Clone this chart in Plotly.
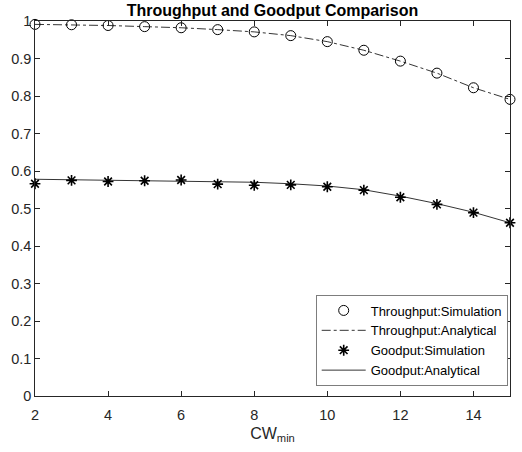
import plotly.graph_objects as go

cw = [2, 3, 4, 5, 6, 7, 8, 9, 10, 11, 12, 13, 14, 15]
thr_sim = [0.991, 0.990, 0.988, 0.985, 0.982, 0.977, 0.971, 0.961, 0.945, 0.922, 0.893, 0.861, 0.822, 0.791]
thr_ana = [0.991, 0.990, 0.988, 0.985, 0.982, 0.977, 0.971, 0.961, 0.945, 0.922, 0.893, 0.861, 0.822, 0.791]
good_sim = [0.566, 0.575, 0.572, 0.574, 0.576, 0.565, 0.562, 0.563, 0.558, 0.549, 0.530, 0.511, 0.489, 0.462]
good_ana = [0.578, 0.577, 0.576, 0.575, 0.574, 0.572, 0.570, 0.566, 0.560, 0.550, 0.533, 0.513, 0.490, 0.462]

FONT = "Liberation Sans, Arial, sans-serif"

fig = go.Figure()
fig.add_trace(go.Scatter(x=cw, y=thr_sim, mode="markers", name="Throughput:Simulation",
                         marker=dict(symbol="circle-open", size=10, color="black", line=dict(width=1)),
                         cliponaxis=False))
fig.add_trace(go.Scatter(x=cw, y=thr_ana, mode="lines", name="Throughput:Analytical",
                         line=dict(color="black", width=0.8, dash="dashdot"), cliponaxis=False))
fig.add_trace(go.Scatter(x=cw, y=good_sim, mode="markers", name="Goodput:Simulation",
                         marker=dict(symbol="asterisk-open", size=9, color="black", line=dict(width=1.6, color="black")),
                         cliponaxis=False))
fig.add_trace(go.Scatter(x=cw, y=good_ana, mode="lines", name="Goodput:Analytical",
                         line=dict(color="black", width=0.8), cliponaxis=False))

axis_common = dict(showline=True, linecolor="#262626", linewidth=0.6, mirror="ticks",
                   ticks="inside", ticklen=5, tickcolor="#262626", showgrid=False, zeroline=False,
                   tickfont=dict(family=FONT, size=14.5, color="#262626"))

fig.update_layout(
    width=522, height=452,
    margin=dict(l=33, r=11, t=21, b=56),
    paper_bgcolor="white", plot_bgcolor="white",
    title=dict(text="<b>Throughput and Goodput Comparison</b>", x=0.522, xanchor="center",
               y=0.977, yanchor="middle",
               font=dict(family=FONT, size=16, color="black")),
    xaxis=dict(range=[2, 15], tickvals=[2, 4, 6, 8, 10, 12, 14], ticklabelstandoff=6,
               title=dict(text="CW<sub>min</sub>", standoff=5,
                          font=dict(family=FONT, size=16, color="#262626")),
               **axis_common),
    yaxis=dict(range=[0, 1], tickvals=[0, 0.1, 0.2, 0.3, 0.4, 0.5, 0.6, 0.7, 0.8, 0.9, 1],
               ticktext=["0", "0.1", "0.2", "0.3", "0.4", "0.5", "0.6", "0.7", "0.8", "0.9", "1"],
               **axis_common),
    legend=dict(x=0.996, y=0.027, xanchor="right", yanchor="bottom",
                bgcolor="white", bordercolor="#262626", borderwidth=0.6,
                font=dict(family=FONT, size=13, color="black"),
                tracegroupgap=0, itemwidth=44),
    showlegend=True,
)

fig.write_html("out.html")
